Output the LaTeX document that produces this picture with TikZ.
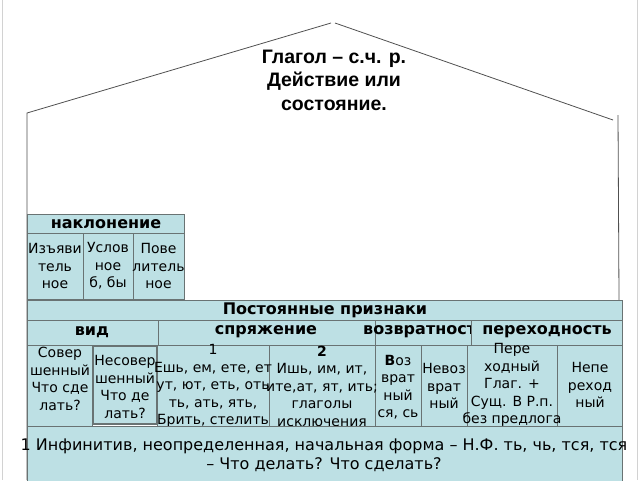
\documentclass[tikz,border=0pt]{standalone}
\usepackage{fontspec}
\setmainfont{DejaVu Sans}
\newfontfamily\titlefont{Liberation Sans}
\usetikzlibrary{fit}
\definecolor{cellfill}{RGB}{189,224,228}
\definecolor{cellline}{RGB}{105,115,115}
\definecolor{houseline}{RGB}{80,80,80}
\begin{document}
\begin{tikzpicture}[x=1pt,y=-1pt,
  box/.style={draw=cellline, fill=cellfill, line width=1pt, inner sep=0pt, rectangle},
  txt/.style={align=center, font=\fontsize{14}{17.5}\selectfont, inner sep=0pt},
  big/.style={align=center, font=\fontsize{16}{19}\selectfont, inner sep=0pt},
  hdr/.style={font=\fontsize{16}{18}\selectfont\bfseries, inner sep=0pt},
  ttl/.style={align=center, font=\titlefont\fontsize{19.5}{23.5}\selectfont\bfseries, inner sep=0pt},
  house/.style={draw=houseline, line width=0.8pt},
  frame/.style={draw=gray!35, line width=0.8pt}]
\useasboundingbox (0,0) rectangle (640,480);
% slide frame
\coordinate (fl1) at (2,0); \coordinate (fl2) at (2,480);
\coordinate (fr1) at (637,0); \coordinate (fr2) at (637,480);
\draw[frame] (fl1) -- (fl2);
\draw[frame] (fr1) -- (fr2);
% house
\coordinate (eaveL) at (27,113);
\coordinate (apexL) at (331,23);
\coordinate (apexR) at (335,23);
\coordinate (eaveR) at (613,120);
\coordinate (wallRtop) at (618,115);
\coordinate (wallRbot) at (620,480);
\coordinate (wallLbot) at (27,480);
\draw[house] (wallLbot) -- (eaveL) -- (apexL);
\draw[house] (apexR) -- (eaveR);
\draw[house] (wallRtop) -- (wallRbot);
\node[ttl] (title) at (334,80) {Глагол – с.ч. р.\\Действие или\\состояние.};
% наклонение
\node[box, fit={(27,214) (184,233)}] (nakl) {};
\node[box, fit={(27,233) (83,299)}] (izj) {};
\node[box, fit={(83,233) (133,299)}] (usl) {};
\node[box, fit={(133,233) (184,299)}] (pov) {};
\node[hdr] (tnakl) at (106,224) {наклонение};
\node[txt] (tizj) at (izj.center) {Изъяви\\тель\\ное};
\node[txt] (tusl) at (usl.center) {Услов\\ное\\б, бы};
\node[txt] (tpov) at (pov.center) {Пове\\литель\\ное};
% постоянные признаки
\node[box, fit={(27,300) (622,320)}] (post) {};
\node[hdr] (tpost) at (325,310) {Постоянные признаки};
\node[box, fit={(27,320) (158,345)}] (vid) {};
\node[box, fit={(158,320) (375,345)}] (spr) {};
\node[box, fit={(375,320) (471,345)}] (vozh) {};
\node[hdr] (tvid) at (92,332) {вид};
\node[hdr] (tspr) at (266,332) {спряжение};
\node[hdr, anchor=west] (tvozh) at (363,332) {возвратност};
\node[box, fit={(471,320) (622,345)}] (perh) {};
\node[hdr] (tperh) at (547,332) {переходность};
% row 3
\node[box, fit={(27,345) (92,426)}] (sov) {};
\node[box, fit={(157,345) (269,426)}] (c1) {};
\node[box, fit={(269,345) (375,426)}] (c2) {};
\node[box, fit={(375,345) (421,426)}] (voz) {};
\node[box, fit={(421,345) (467,426)}] (nevoz) {};
\node[box, fit={(467,345) (557,426)}] (pere) {};
\node[box, fit={(557,345) (622,426)}] (nepe) {};
\node[box, line width=1.4pt, fit={(93,346) (157,424)}] (nesov) {};
\node[txt] (tsov) at (60,379) {Совер\\шенный\\Что сде\\лать?};
\node[txt] (tnesov) at (125,387) {Несовер\\шенный\\Что де\\лать?};
\node[txt] (tc1) at (213,386) {1\\Ешь, ем, ете, ет\\ут, ют, еть, оть\\ть, ать, ять,\\Брить, стелить};
\node[txt] (tc2) at (322,386) {\textbf{2}\\Ишь, им, ит,\\ите,ат, ят, ить;\\глаголы\\исключения};
\node[txt] (tvoz) at (398,387) {\textbf{В}оз\\врат\\ный\\ся, сь};
\node[txt] (tnevoz) at (444,386) {Невоз\\врат\\ный};
\node[txt] (tpere) at (512,385) {Пере\\ходный\\Глаг. +\\Сущ. В Р.п.\\без предлога};
\node[txt] (tnepe) at (590,385) {Непе\\реход\\ный};
% row 4
\node[box, fit={(27,426) (622,486)}] (inf) {};
\node[big] (tinf) at (324,455) {1 Инфинитив, неопределенная, начальная форма – Н.Ф. ть, чь, тся, тся\\– Что делать? Что сделать?};
\end{tikzpicture}
\end{document}
